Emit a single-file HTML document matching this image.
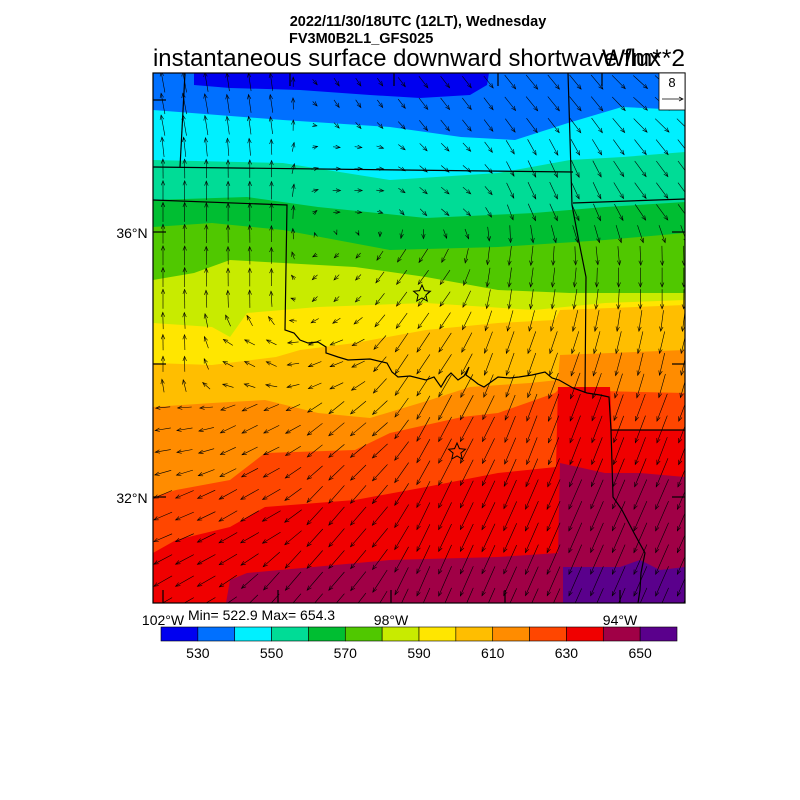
<!DOCTYPE html>
<html><head><meta charset="utf-8"><style>
html,body{margin:0;padding:0;background:#fff;}
svg{display:block;font-family:"Liberation Sans",sans-serif;}
</style></head><body>
<svg id="s" width="800" height="800" viewBox="0 0 800 800" xmlns="http://www.w3.org/2000/svg">
<defs><clipPath id="c"><rect x="153" y="73" width="532" height="530"/></clipPath></defs>
<g clip-path="url(#c)">
<rect x="153" y="73" width="532" height="530" fill="#0070FF"/>
<polygon fill="#0000F0" points="194,73 489,73 487,85 470,95 420,98 370,95 300,90 230,88 194,85"/>
<polygon fill="#00F0FF" points="153,110 283,120 390,127 461,137 515,140 568,123 622,107 685,110 685,603 153,603"/>
<polygon fill="#00DC96" points="153,160 283,163 390,180 498,173 570,160 623,157 685,152 685,603 153,603"/>
<polygon fill="#00BE32" points="153,200 247,197 318,207 426,218 534,213 605,207 685,202 685,603 153,603"/>
<polygon fill="#50C800" points="153,227 212,223 283,230 390,250 498,247 605,240 685,233 685,603 153,603"/>
<polygon fill="#C8EB00" points="153,280 194,273 230,260 283,263 355,267 426,277 498,290 570,293 685,293 685,603 153,603"/>
<polygon fill="#FFE600" points="153,323 212,327 230,337 247,313 318,307 426,303 534,310 605,303 685,300 685,603 153,603"/>
<polygon fill="#FFBE00" points="153,363 212,365 276,357 300,350 355,343 426,330 498,323 555,320 560,310 685,305 685,603 153,603"/>
<polygon fill="#FF8C00" points="153,407 212,403 265,400 318,413 370,418 430,400 470,387 530,383 558,380 560,355 685,350 685,603 153,603"/>
<polygon fill="#FF4600" points="153,497 176,490 230,480 265,453 355,450 390,433 462,417 498,413 555,393 558,390 685,393 685,603 153,603"/>
<polygon fill="#F00000" points="153,553 176,540 230,527 265,507 355,500 426,487 498,473 556,467 558,387 610,387 612,430 685,430 685,603 153,603"/>
<polygon fill="#A00046" points="226,603 230,580 247,573 390,560 498,557 558,553 560,463 605,473 640,473 685,477 685,603"/>
<polygon fill="#5A008C" points="563,567 620,567 640,560 660,570 685,567 685,603 563,603"/>
<g id="arr" stroke="#000" stroke-width="0.6" fill="none"></g>
<g stroke="#000" stroke-width="1.2" fill="none">
<polyline points="153,167 573,172"/>
<polyline points="185,73 180,167"/>
<polyline points="153,200 287,205 285,330 294,333 300,340 308,343 318,342 326,347 326,353 338,357 348,360 370,359 387,363 392,372 398,377 410,376 426,380 434,377 441,387 447,377 451,373 458,380 464,376 469,367 466,375 473,380 478,384 484,387 491,382 498,377 510,378 519,377 532,375 545,372 552,378 559,380 573,388 587,393 600,395 609,397 611,430 613,497 622,510 634,533 645,553 641,573 640,590 638,603"/>
<polyline points="611,430 685,430"/>
<polyline points="568,73 572,205 578,237 586,277 585,393"/>
<polyline points="573,203 685,199"/>
</g>
<g stroke="#000" stroke-width="1" fill="none">
<polygon points="422,285 424.4,290.6 430.4,291.2 425.9,295.1 427.2,301 422,297.9 416.8,301 418.1,295.1 413.6,291.2 419.6,290.6"/>
<polygon points="457,443 459.4,448.6 465.4,449.2 460.9,453.1 462.2,459 457,455.9 451.8,459 453.1,453.1 448.6,449.2 454.6,448.6"/>
</g>
</g>
<rect x="153" y="73" width="532" height="530" fill="none" stroke="#000" stroke-width="1.2"/>
<g stroke="#000" stroke-width="1.2">
<line x1="153" y1="100" x2="166" y2="100"/><line x1="153" y1="232" x2="166" y2="232"/><line x1="153" y1="364" x2="166" y2="364"/><line x1="153" y1="497" x2="166" y2="497"/>
<line x1="685" y1="232" x2="672" y2="232"/><line x1="685" y1="364" x2="672" y2="364"/><line x1="685" y1="497" x2="672" y2="497"/>
<line x1="163" y1="603" x2="163" y2="590"/><line x1="278" y1="603" x2="278" y2="590"/><line x1="391" y1="603" x2="391" y2="590"/><line x1="505" y1="603" x2="505" y2="590"/><line x1="620" y1="603" x2="620" y2="590"/>
<line x1="290" y1="73" x2="290" y2="86"/><line x1="394" y1="73" x2="394" y2="86"/><line x1="498" y1="73" x2="498" y2="86"/><line x1="602" y1="73" x2="602" y2="86"/>
</g>
<rect x="659" y="73" width="26" height="37" fill="#fff" stroke="#000" stroke-width="0.8"/>
<text x="672" y="87" font-size="13" text-anchor="middle">8</text>
<line x1="662" y1="99" x2="683" y2="99" stroke="#000" stroke-width="0.7"/><polyline points="679,97 683,99 679,101" fill="none" stroke="#000" stroke-width="0.7"/>
<text x="418" y="26" font-size="14.5" font-weight="bold" text-anchor="middle">2022/11/30/18UTC (12LT), Wednesday</text>
<text x="289" y="43" font-size="14.5" font-weight="bold">FV3M0B2L1_GFS025</text>
<text x="153" y="66" font-size="24.5" textLength="508" lengthAdjust="spacingAndGlyphs">instantaneous surface downward shortwave flux</text>
<text x="685" y="66" font-size="24.5" text-anchor="end">W/m**2</text>
<text x="132" y="238" font-size="14" text-anchor="middle">36°N</text>
<text x="132" y="503" font-size="14" text-anchor="middle">32°N</text>
<text x="163" y="625" font-size="14" text-anchor="middle">102°W</text>
<text x="391" y="625" font-size="14" text-anchor="middle">98°W</text>
<text x="620" y="625" font-size="14" text-anchor="middle">94°W</text>
<text x="188" y="620" font-size="14">Min= 522.9 Max= 654.3</text>
<g id="cb" stroke="#000" stroke-width="0.6"></g>
<g id="cbl" font-size="14" text-anchor="middle"></g>
</svg>
<script>
var NS="http://www.w3.org/2000/svg";
function el(p,t,a,txt){var e=document.createElementNS(NS,t);for(var k in a)e.setAttribute(k,a[k]);if(txt)e.textContent=txt;p.appendChild(e);return e;}
var cols=["#0000F0","#0070FF","#00F0FF","#00DC96","#00BE32","#50C800","#C8EB00","#FFE600","#FFBE00","#FF8C00","#FF4600","#F00000","#A00046","#5A008C"];
var cb=document.getElementById("cb"),cbl=document.getElementById("cbl");
var x0=161,w=(677-161)/14;
for(var i=0;i<14;i++)el(cb,"rect",{x:x0+i*w,y:627,width:w,height:14,fill:cols[i]});
for(var j=0;j<7;j++)el(cbl,"text",{x:x0+(2*j+1)*w,y:658},String(530+20*j));
var P=[[170,100,-3,-16],[250,100,-2,-14],[350,90,4,6],[450,90,7,9],[550,90,9,11],[670,90,11,10],
[170,200,0,-15],[250,200,0,-14],[350,180,6,0],[450,190,6,5],[550,190,6,13],[670,190,9,12],
[170,280,0,-15],[250,280,0,-14],[330,290,-4,4],[420,290,-8,11],[520,280,-2,15],[670,280,0,15],
[170,360,0,-12],[250,360,-8,-4],[330,360,-10,4],[420,360,-10,15],[520,360,-6,17],[670,360,-4,17],
[170,430,-12,2],[250,430,-12,6],[350,430,-12,10],[450,420,-10,19],[550,420,-8,21],[670,420,-8,21],
[170,520,-14,6],[250,520,-14,8],[350,520,-12,14],[450,520,-10,21],[550,520,-10,23],[670,520,-10,23],
[170,590,-14,8],[300,590,-12,14],[450,590,-10,23],[670,590,-10,23]];
var g=document.getElementById("arr"),S=1.3;
for(var y=82;y<603;y+=21.7)for(var x=163;x<685;x+=21.7){
 var sw=0,u=0,v=0;
 for(var k=0;k<P.length;k++){var d=(P[k][0]-x)*(P[k][0]-x)+(P[k][1]-y)*(P[k][1]-y)+100;var ww=1/(d*d);sw+=ww;u+=ww*P[k][2];v+=ww*P[k][3];}
 u=u/sw*S;v=v/sw*S;var L=Math.sqrt(u*u+v*v);if(L<1)continue;
 var x1=x-u/2,y1=y-v/2,x2=x+u/2,y2=y+v/2,ux=u/L,uy=v/L,h=4.5;
 el(g,"line",{x1:x1.toFixed(1),y1:y1.toFixed(1),x2:x2.toFixed(1),y2:y2.toFixed(1)});
 el(g,"polyline",{points:(x2-h*ux-h*0.4*uy).toFixed(1)+","+(y2-h*uy+h*0.4*ux).toFixed(1)+" "+x2.toFixed(1)+","+y2.toFixed(1)+" "+(x2-h*ux+h*0.4*uy).toFixed(1)+","+(y2-h*uy-h*0.4*ux).toFixed(1)});
}
</script>
</body></html>
